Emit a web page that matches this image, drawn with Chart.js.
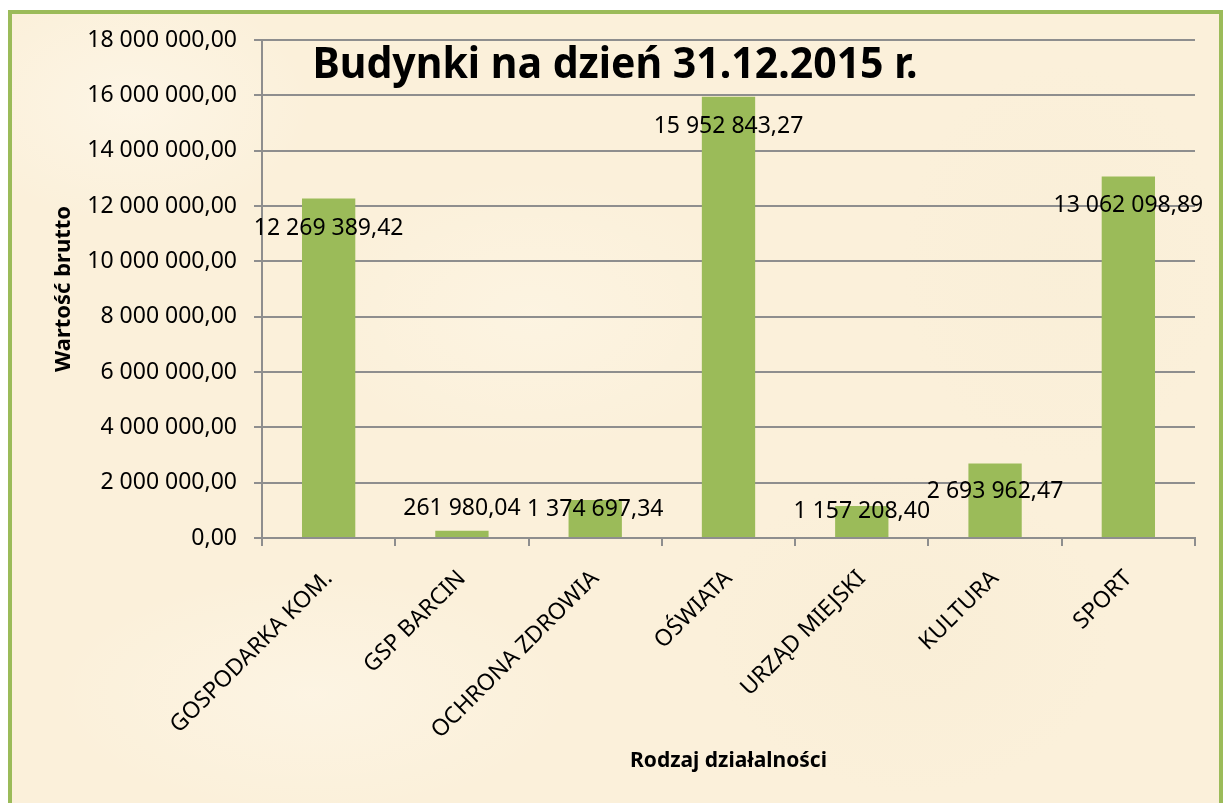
<!DOCTYPE html>
<html>
<head>
<meta charset="utf-8">
<script src="https://cdn.jsdelivr.net/npm/chart.js@4.4.1/dist/chart.umd.min.js"></script>
<style>
  html, body { margin: 0; padding: 0; background: #ffffff; overflow: hidden; }
  #frame {
    position: absolute; left: 8px; top: 10px; width: 1215px; height: 820px;
    box-sizing: border-box; border: 4px solid #9BBB59;
    background-color: #FBF0DA;
    background-image:
      radial-gradient(ellipse 180px 120px at 120px 90px, rgba(255,250,240,0.5), rgba(255,250,240,0) 100%),
      radial-gradient(ellipse 220px 140px at 520px 300px, rgba(255,249,236,0.4), rgba(255,249,236,0) 100%),
      radial-gradient(ellipse 200px 160px at 900px 620px, rgba(246,234,208,0.35), rgba(246,234,208,0) 100%),
      radial-gradient(ellipse 260px 120px at 300px 680px, rgba(255,250,240,0.4), rgba(255,250,240,0) 100%),
      radial-gradient(ellipse 160px 200px at 1050px 250px, rgba(247,236,212,0.35), rgba(247,236,212,0) 100%);
  }
  #SeriesBarChart { position: absolute; left: 0; top: 0; }
</style>
</head>
<body>
<div id="frame"></div>
<canvas id="SeriesBarChart" width="1223" height="803"></canvas>
<script>
var categories = ['GOSPODARKA KOM.', 'GSP BARCIN', 'OCHRONA ZDROWIA', 'OŚWIATA', 'URZĄD MIEJSKI', 'KULTURA', 'SPORT'];
var values = [12269389.42, 261980.04, 1374697.34, 15952843.27, 1157208.40, 2693962.47, 13062098.89];
var yMin = 0, yMax = 18000000, yStep = 2000000;
var chartTitle = 'Budynki na dzień 31.12.2015 r.';
var yTitle = 'Wartość brutto';
var xTitle = 'Rodzaj działalności';

// label nudges (px from bar top), labels were moved by hand in the original
var labelShiftY = [30, -22, 9, 30, 5, 28, 29];

function plNumber(v) {
    var parts = v.toFixed(2).split('.');
    var intPart = parts[0].replace(/\B(?=(\d{3})+(?!\d))/g, ' ');
    return intPart + ',' + parts[1];
}

var gridGrey = '#8E8E8E';

var overlayTitle = {
    id: 'overlayTitle',
    afterDraw: function (chart) {
        var ctx = chart.ctx;
        ctx.save();
        ctx.font = 'bold 43px "Noto Sans"';
        ctx.fillStyle = '#000';
        ctx.textAlign = 'center';
        ctx.textBaseline = 'alphabetic';
        var w = ctx.measureText(chartTitle).width;
        var sx = 605 / w;
        ctx.translate(615, 78);
        ctx.scale(sx, 1);
        ctx.fillText(chartTitle, 0, 0);
        ctx.restore();
    }
};

var barLabels = {
    id: 'barLabels',
    afterDatasetsDraw: function (chart) {
        var ctx = chart.ctx;
        var meta = chart.getDatasetMeta(0);
        ctx.save();
        ctx.font = '23px "Noto Sans"';
        ctx.fillStyle = '#000';
        ctx.textAlign = 'center';
        ctx.textBaseline = 'middle';
        meta.data.forEach(function (bar, i) {
            ctx.fillText(plNumber(values[i]), bar.x, bar.y + labelShiftY[i]);
        });
        ctx.restore();
    }
};

var ctxbar = document.getElementById('SeriesBarChart');
var SeriesBarChart = new Chart(ctxbar, {
    type: 'bar',
    data: {
        labels: categories,
        datasets: [{
            label: yTitle,
            data: values,
            backgroundColor: '#9BBB59',
            borderWidth: 0,
            barPercentage: 0.4,
            categoryPercentage: 1.0
        }]
    },
    options: {
        responsive: false,
        animation: false,
        layout: { padding: { left: 40, right: 28, top: 40, bottom: 0 } },
        plugins: {
            legend: { display: false },
            tooltip: { enabled: false },
            title: { display: false }
        },
        scales: {
            x: {
                offset: true,
                grid: {
                    offset: true,
                    drawOnChartArea: false,
                    drawTicks: true,
                    tickLength: 8,
                    color: gridGrey,
                    lineWidth: 2
                },
                border: { color: gridGrey, width: 2 },
                ticks: {
                    autoSkip: false,
                    minRotation: 45,
                    maxRotation: 45,
                    padding: 19,
                    color: '#000',
                    font: { family: '"Noto Sans"', size: 23 }
                },
                title: {
                    display: true,
                    text: xTitle,
                    color: '#000',
                    font: { family: '"Noto Sans"', size: 21, weight: 'bold' },
                    padding: { top: 0, bottom: 29 }
                },
                afterFit: function (scale) { scale.height = 265; }
            },
            y: {
                min: yMin,
                max: yMax,
                ticks: {
                    stepSize: yStep,
                    padding: 17,
                    color: '#000',
                    font: { family: '"Noto Sans"', size: 23 },
                    callback: function (v) { return plNumber(v); }
                },
                grid: {
                    color: gridGrey,
                    lineWidth: 2,
                    tickLength: 8
                },
                border: { color: gridGrey, width: 2 },
                title: {
                    display: true,
                    text: yTitle,
                    color: '#000',
                    font: { family: '"Noto Sans"', size: 22, weight: 'bold' },
                    padding: { top: 11, bottom: 0 }
                },
                afterFit: function (scale) { scale.width = 222; }
            }
        }
    },
    plugins: [overlayTitle, barLabels]
});
</script>
</body>
</html>
